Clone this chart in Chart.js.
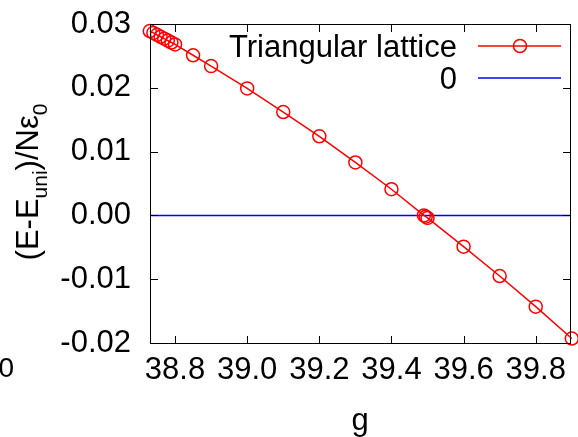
<!DOCTYPE html>
<html>
<head>
<meta charset="utf-8">
<script src="https://cdn.jsdelivr.net/npm/chart.js@4/dist/chart.umd.min.js"></script>
<style>
  body { margin: 0; }
  #wrap { position: relative; width: 578px; height: 437px; }
  #chart { position: absolute; left: 0; top: 0; }
  .mark { position: absolute; background: #000; pointer-events: none; }
</style>
</head>
<body>
<div id="wrap">
<canvas id="chart" width="578" height="437"></canvas>
</div>
<script>
// data
const gValues = [38.73, 38.74, 38.75, 38.76, 38.77, 38.78, 38.79, 38.80, 38.85, 38.90,
  39.0, 39.1, 39.2, 39.3, 39.4, 39.49, 39.495, 39.50, 39.6, 39.7, 39.8, 39.9];
const energyValues = [0.0289, 0.0286, 0.0283, 0.0280, 0.0277, 0.0274, 0.0271, 0.0268, 0.0251, 0.0234,
  0.0199, 0.0162, 0.0124, 0.0083, 0.0041, 0.0000, -0.0002, -0.0004, -0.0049, -0.0095, -0.0143, -0.0193];
const xRange = [38.7306, 39.895];
const yRange = [-0.02, 0.03];
const xTicks = [38.8, 39.0, 39.2, 39.4, 39.6, 39.8];
const yTicks = [-0.02, -0.01, 0.00, 0.01, 0.02, 0.03];
const zeroLine = [0, 0];

const FONT = '"Liberation Sans", Arial, sans-serif';

const gnuplotText = {
  id: 'gnuplotText',
  afterDraw(chart) {
    const ctx = chart.ctx;
    const a = chart.chartArea;
    ctx.save();
    ctx.fillStyle = '#000000';

    // legend
    ctx.font = '31px ' + FONT;
    ctx.textAlign = 'right';
    ctx.textBaseline = 'alphabetic';
    ctx.fillText('Triangular lattice', 457, 57);
    ctx.fillText('0', 457, 89);
    ctx.lineWidth = 1.5;
    ctx.strokeStyle = '#ff0000';
    ctx.beginPath(); ctx.moveTo(478, 46); ctx.lineTo(561, 46); ctx.stroke();
    ctx.beginPath(); ctx.arc(520, 46, 6.5, 0, Math.PI * 2); ctx.stroke();
    ctx.strokeStyle = '#0000ff';
    ctx.beginPath(); ctx.moveTo(478, 78); ctx.lineTo(561, 78); ctx.stroke();

    // axis titles
    ctx.textAlign = 'center';
    ctx.font = '31px ' + FONT;
    ctx.fillText('g', (a.left + a.right) / 2, 430);

    const parts = [
      ['(E-E', 31, 0], ['uni', 21, 9], [')/N\u03b5', 31, 0], ['0', 21, 9]
    ];
    ctx.textAlign = 'left';
    let total = 0;
    parts.forEach(p => { ctx.font = p[1] + 'px ' + FONT; total += ctx.measureText(p[0]).width; });
    ctx.translate(38, 182);
    ctx.rotate(-Math.PI / 2);
    let x = -total / 2;
    parts.forEach(p => {
      ctx.font = p[1] + 'px ' + FONT;
      ctx.fillText(p[0], x, p[2]);
      x += ctx.measureText(p[0]).width;
    });
    ctx.restore();

    // stray label cut at the left edge
    ctx.save();
    ctx.fillStyle = '#000000';
    ctx.font = '28px ' + FONT;
    ctx.textAlign = 'right';
    ctx.fillText('0', 14, 377);
    ctx.restore();
  }
};

const chart = new Chart(document.getElementById('chart'), {
  type: 'scatter',
  data: {
    datasets: [
      {
        label: 'Triangular lattice',
        data: gValues.map((g, i) => ({ x: g, y: energyValues[i] })),
        showLine: true,
        borderColor: '#ff0000',
        backgroundColor: 'rgba(0,0,0,0)',
        borderWidth: 1.5,
        pointRadius: 6.5,
        pointBorderWidth: 1.5,
        pointStyle: 'circle',
        clip: false,
      },
      {
        label: '0',
        data: xRange.map((g, i) => ({ x: g, y: zeroLine[i] })),
        showLine: true,
        borderColor: '#0000ff',
        borderWidth: 1.5,
        pointRadius: 0,
        pointHoverRadius: 0,
        clip: false,
      },
    ],
  },
  options: {
    responsive: false,
    animation: false,
    layout: { padding: { top: 24, right: 8, left: 0, bottom: 0 } },
    plugins: {
      legend: { display: false },
      tooltip: { enabled: false },
    },
    scales: {
      x: {
        type: 'linear',
        min: xRange[0],
        max: xRange[1],
        grid: { display: false, drawTicks: false },
        border: { display: false },
        afterBuildTicks: s => { s.ticks = xTicks.map(v => ({ value: v })); },
        afterFit: s => { s.height = 94; s.paddingLeft = 0; s.paddingRight = 0; },
        ticks: {
          color: '#000',
          font: { family: FONT, size: 31 },
          padding: 9,
          maxRotation: 0,
          callback: v => v.toFixed(1),
        },
      },
      y: {
        type: 'linear',
        min: yRange[0],
        max: yRange[1],
        grid: { display: false, drawTicks: false },
        border: { display: false },
        afterBuildTicks: s => { s.ticks = yTicks.map(v => ({ value: v })); },
        afterFit: s => { s.width = 150; s.paddingTop = 0; s.paddingBottom = 0; },
        ticks: {
          color: '#000',
          font: { family: FONT, size: 31 },
          padding: 19,
          callback: v => v.toFixed(2),
        },
      },
    },
  },
  plugins: [gnuplotText],
});

// frame and mirrored inward ticks, placed from the chart's own area and scales
(function drawFrame() {
  const wrap = document.getElementById('wrap');
  const a = chart.chartArea;
  const xs = chart.scales.x, ys = chart.scales.y;
  const tl = 7;
  const left = Math.round(a.left), right = Math.round(a.right);
  const top = Math.round(a.top), bottom = Math.round(a.bottom);
  function mark(x, y, w, h) {
    const d = document.createElement('div');
    d.className = 'mark';
    d.style.left = x + 'px';
    d.style.top = y + 'px';
    d.style.width = w + 'px';
    d.style.height = h + 'px';
    wrap.appendChild(d);
  }
  mark(left, top, right - left + 1, 1);
  mark(left, bottom, right - left + 1, 1);
  mark(left, top, 1, bottom - top + 1);
  mark(right, top, 1, bottom - top + 1);
  xTicks.forEach(v => {
    const px = Math.round(xs.getPixelForValue(v));
    mark(px, bottom - tl, 1, tl);
    mark(px, top + 1, 1, tl);
  });
  yTicks.forEach(v => {
    const py = Math.round(ys.getPixelForValue(v));
    mark(left + 1, py, tl, 1);
    mark(right - tl, py, tl, 1);
  });
})();
</script>
</body>
</html>
